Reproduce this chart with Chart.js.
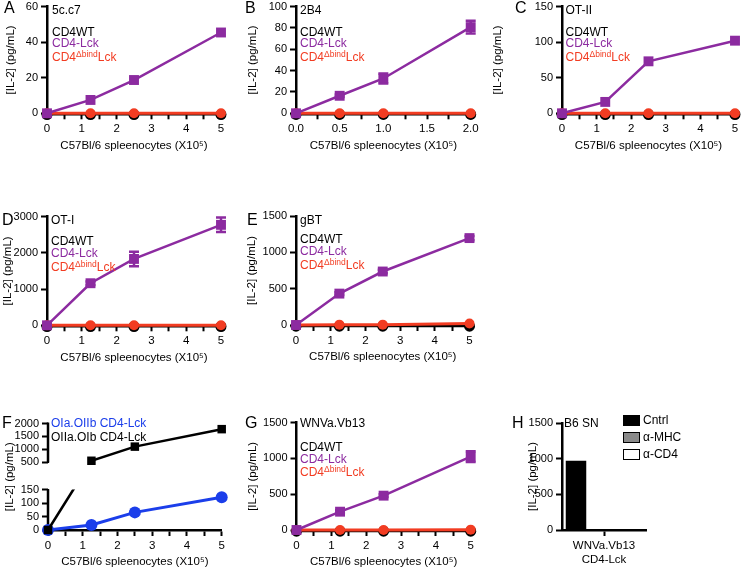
<!DOCTYPE html>
<html>
<head>
<meta charset="utf-8">
<title>IL-2 panels</title>
<script src="https://cdn.jsdelivr.net/npm/chart.js@4.4.1/dist/chart.umd.min.js"></script>
<style>
  body { margin: 0; width: 742px; height: 568px; overflow: hidden; background: #fff; position: relative;
         font-family: 'Liberation Sans', Arial, Helvetica, sans-serif; color: #000; }
  canvas { position: absolute; }
  .note { position: absolute; font-size: 12px; line-height: 14px; white-space: nowrap; }
  .letter { position: absolute; font-size: 16px; line-height: 16px; }
  sup { font-size: 8.5px; line-height: 0; vertical-align: 4px; }
  .key { position: absolute; width: 15px; height: 9px; border: 1px solid #000; }
</style>
</head>
<body>
<script>
const PURPLE = '#8C2BA0';
const RED = '#F23C22';
const BLUE = '#1B3EEA';

// shared x values / ticks
const xDose = [0, 1.25, 2.5, 5];
const xDoseB = [0, 0.5, 1, 2];
const xTicks5 = [0, 0.5, 1, 1.5, 2, 2.5, 3, 3.5, 4, 4.5, 5];
const xLabels5 = ['0', '', '1', '', '2', '', '3', '', '4', '', '5'];
const xTicks2 = [0, 0.25, 0.5, 0.75, 1, 1.25, 1.5, 1.75, 2];
const xLabels2 = ['0.0', '', '0.5', '', '1.0', '', '1.5', '', '2.0'];

// A 5c.c7
const aTicks = [0, 20, 40, 60];
const aWT = [-0.7, -0.7, -0.7, -0.7];
const aLck = [0, 7.5, 18.7, 45.4];
const aBind = [0, 0, 0, 0];

// B 2B4
const bTicks = [0, 20, 40, 60, 80, 100];
const bWT = [-1.1, -1.1, -1.1, -1.1];
const bLck = [0, 16.4, 32.6, 80.7];
const bLckErr = [0, 1.2, 4.7, 5.9];
const bBind = [0, 0, 0, 0];

// C OT-II
const cTicks = [0, 50, 100, 150];
const cWT = [-1.7, -1.7, -1.7, -1.7];
const cLck = [0, 16, 73, 102];
const cBind = [0, 0, 0, 0];

// D OT-I
const dTicks = [0, 1000, 2000, 3000];
const dWT = [-33, -33, -33, -33];
const dLck = [0, 1160, 1830, 2770];
const dLckErr = [0, 50, 200, 200];
const dBind = [0, 0, 0, 0];

// E gBT
const eTicks = [0, 500, 1000, 1500];
const eWT = [-16, -16, -16, -16];
const eLck = [0, 432, 736, 1196];
const eLckErr = [0, 20, 25, 30];
const eBind = [0, 5, 5, 20];

// F OIa.OIIb / OIIa.OIb, broken y axis
const fTicks = [0, 50, 100, 150, 500, 1000, 1500, 2000];
const fBreak = [150, 500];
const fBlue = [0, 19, 66, 123];
const fBlack = [0, 550, 1100, 1780];

// G WNVa.Vb13
const gTicks = [0, 500, 1000, 1500];
const gWT = [-17, -17, -17, -17];
const gLck = [0, 256, 480, 1025];
const gLckErr = [0, 20, 20, 75];
const gBind = [0, 0, 0, 5];

// H B6 SN
const hTicks = [0, 500, 1000, 1500];
const hGroups = [['WNVa.Vb13', 'CD4-Lck']];
const hSeries = ['Cntrl', 'α-MHC', 'α-CD4'];
const hValues = [[975], [0], [0]];
const hColors = ['#000', '#8a8a8a', '#fff'];

// broken linear scale: lower segment / gap / upper segment
const fLowFrac = 0.376, fHighFrac = 0.638;
class BrokenScale extends Chart.LinearScale {
  getPixelForValue(v) {
    const [lo, hi] = fBreak;
    let d;
    if (v <= lo) d = v / lo * fLowFrac;
    else if (v >= hi) d = fHighFrac + (v - hi) / (this.max - hi) * (1 - fHighFrac);
    else d = fLowFrac + (v - lo) / (hi - lo) * (fHighFrac - fLowFrac);
    return this.getPixelForDecimal(d);
  }
}
BrokenScale.id = 'broken';
BrokenScale.defaults = Chart.LinearScale.defaults;
Chart.register(BrokenScale);

Chart.defaults.font.family = "'Liberation Sans', Arial, Helvetica, sans-serif";
Chart.defaults.color = '#000';

const errorBars = {
  id: 'errorBars',
  afterDatasetsDraw(chart) {
    const { ctx, scales: { x, y } } = chart;
    chart.data.datasets.forEach(ds => {
      if (!ds.errors) return;
      ds.data.forEach((pt, i) => {
        const e = ds.errors[i];
        if (!e) return;
        const px = x.getPixelForValue(pt.x);
        const top = y.getPixelForValue(pt.y + e);
        const bot = y.getPixelForValue(pt.y - e);
        ctx.save();
        ctx.strokeStyle = ds.borderColor;
        ctx.lineWidth = 2.5;
        ctx.beginPath();
        ctx.moveTo(px, top); ctx.lineTo(px, bot);
        ctx.moveTo(px - 5, top); ctx.lineTo(px + 5, top);
        ctx.moveTo(px - 5, bot); ctx.lineTo(px + 5, bot);
        ctx.stroke();
        ctx.restore();
      });
    });
  }
};

const yTickFont = { size: 11 };
const xTickFont = { size: 11.5 };
const titleFont = { size: 11.5 };
const gridStyle = { drawOnChartArea: false, drawTicks: true, tickLength: 6, tickWidth: 2, color: '#000' };
const borderStyle = { display: true, width: 2.5, color: '#000' };
const X_HEIGHT = 39;

function place(p) {
  const left = Math.round(p.titleX - 7);
  const top = Math.round(p.area.t - 12);
  const w = Math.round(p.area.r + 45 - left);
  const h = Math.round(p.area.b + X_HEIGHT + 4 - top);
  const canvas = document.createElement('canvas');
  canvas.width = w; canvas.height = h;
  canvas.style.left = left + 'px';
  canvas.style.top = top + 'px';
  canvas.style.width = w + 'px';
  canvas.style.height = h + 'px';
  document.body.appendChild(canvas);
  return { canvas, left, top, w, h };
}

function yScale(p, g, ticks, type) {
  return {
    type: type || 'linear',
    min: ticks[0], max: ticks[ticks.length - 1],
    afterBuildTicks: s => { s.ticks = ticks.map(v => ({ value: v })); },
    afterFit: s => { s.width = p.area.l - g.left; },
    ticks: { autoSkip: false, padding: 3, font: yTickFont, color: '#000', callback: v => String(v) },
    grid: gridStyle,
    border: type === 'broken' ? { display: false } : borderStyle,
    title: { display: true, text: '[IL-2] (pg/mL)', font: titleFont, color: '#000', padding: 0 }
  };
}

function xLinear(ticks, labels) {
  return {
    type: 'linear',
    min: ticks[0], max: ticks[ticks.length - 1],
    afterBuildTicks: s => { s.ticks = ticks.map(v => ({ value: v })); },
    afterFit: s => { s.height = X_HEIGHT; },
    ticks: { autoSkip: false, maxRotation: 0, padding: 3, font: xTickFont, color: '#000', callback: (v, i) => labels[i] },
    grid: gridStyle,
    border: borderStyle,
    title: { display: true, text: 'C57Bl/6 spleenocytes (X10⁵)', font: titleFont, color: '#000', padding: 0 }
  };
}

function baseOptions(p, g, xs, ys) {
  return {
    responsive: false,
    animation: false,
    events: [],
    layout: { padding: {
      top: p.area.t - g.top,
      right: g.w - (p.area.r - g.left),
      bottom: g.h - (p.area.b - g.top) - X_HEIGHT,
      left: 0
    } },
    plugins: { legend: { display: false }, tooltip: { enabled: false } },
    scales: { x: xs, y: ys }
  };
}

function pts(xs, ys) {
  return xs.map((x, i) => ({ x: x, y: ys[i] }));
}

function series(label, xs, ys, color, style, radius, width, order) {
  return {
    label: label, data: pts(xs, ys),
    borderColor: color, backgroundColor: color,
    pointStyle: style, pointRadius: radius, pointBorderWidth: 0,
    borderWidth: width, tension: 0, clip: false, order: order
  };
}

function note(x, y, html, color) {
  const d = document.createElement('div');
  d.className = 'note';
  d.style.left = (x - 1) + 'px';
  d.style.top = (y - 7) + 'px';
  d.style.color = color || '#000';
  d.innerHTML = html;
  document.body.appendChild(d);
}

function letter(x, y, text) {
  const d = document.createElement('div');
  d.className = 'letter';
  d.style.left = x + 'px';
  d.style.top = (y - 8) + 'px';
  d.textContent = text;
  document.body.appendChild(d);
}

const linePanels = [
  { letter: 'A', lx: 4, ly: 8, name: '5c.c7', area: { l: 47, r: 221, t: 6.5, b: 113.3 }, titleX: 11,
    x: xDose, xTicks: xTicks5, xLabels: xLabels5, yTicks: aTicks, wt: aWT, lck: aLck, err: null, bind: aBind,
    nx: 53, ny: [10, 32, 43, 57] },
  { letter: 'B', lx: 245, ly: 8, name: '2B4', area: { l: 296, r: 470.7, t: 6.5, b: 113.3 }, titleX: 253,
    x: xDoseB, xTicks: xTicks2, xLabels: xLabels2, yTicks: bTicks, wt: bWT, lck: bLck, err: bLckErr, bind: bBind,
    nx: 301, ny: [10, 32, 43, 57] },
  { letter: 'C', lx: 515, ly: 8, name: 'OT-II', area: { l: 562, r: 735, t: 6.5, b: 113.3 }, titleX: 498,
    x: xDose, xTicks: xTicks5, xLabels: xLabels5, yTicks: cTicks, wt: cWT, lck: cLck, err: null, bind: cBind,
    nx: 566.5, ny: [10, 32, 43, 57] },
  { letter: 'D', lx: 2, ly: 220, name: 'OT-I', area: { l: 47, r: 221, t: 216.5, b: 325.3 }, titleX: 8,
    x: xDose, xTicks: xTicks5, xLabels: xLabels5, yTicks: dTicks, wt: dWT, lck: dLck, err: dLckErr, bind: dBind,
    nx: 52, ny: [219.5, 241, 253, 267] },
  { letter: 'E', lx: 247, ly: 220, name: 'gBT', area: { l: 296, r: 469.5, t: 216, b: 325 }, titleX: 252,
    x: xDose, xTicks: xTicks5, xLabels: xLabels5, yTicks: eTicks, wt: eWT, lck: eLck, err: eLckErr, bind: eBind,
    nx: 301, ny: [220, 238.5, 251, 264.5] },
  { letter: 'G', lx: 245, ly: 423, name: 'WNVa.Vb13', area: { l: 296.5, r: 470.7, t: 422.7, b: 530 }, titleX: 253,
    x: xDose, xTicks: xTicks5, xLabels: xLabels5, yTicks: gTicks, wt: gWT, lck: gLck, err: gLckErr, bind: gBind,
    nx: 301, ny: [423.3, 446.7, 459, 471.7] }
];

linePanels.forEach(p => {
  const g = place(p);
  const lck = series('CD4-Lck', p.x, p.lck, PURPLE, 'rect', 7, 2.5, 1);
  lck.errors = p.err;
  new Chart(g.canvas, {
    type: 'line',
    data: { datasets: [
      series('CD4WT', p.x, p.wt, '#000', 'circle', 5.5, 2, 3),
      series('CD4ΔbindLck', p.x, p.bind, RED, 'circle', 5, 3, 2),
      lck
    ] },
    options: baseOptions(p, g, xLinear(p.xTicks, p.xLabels), yScale(p, g, p.yTicks)),
    plugins: [errorBars]
  });
  letter(p.lx, p.ly, p.letter);
  note(p.nx, p.ny[0], p.name);
  note(p.nx, p.ny[1], 'CD4WT');
  note(p.nx, p.ny[2], 'CD4-Lck', PURPLE);
  note(p.nx, p.ny[3], 'CD4<sup>Δbind</sup>Lck', RED);
});

// F: broken axis panel
(function () {
  const p = { area: { l: 48, r: 221.7, t: 423.5, b: 530 }, titleX: 10 };
  const g = place(p);
  const blackLine = series('OIIa.OIb CD4-Lck', xDose, fBlack, '#000', 'rect', 0, 2.5, 2);
  blackLine.maskGap = true;
  const blackPts = series('OIIa.OIb CD4-Lck', xDose, fBlack, '#000', 'rect', 6, 2.5, 1);
  blackPts.showLine = false;
  const brokenAxis = {
    id: 'brokenAxis',
    beforeDatasetsDraw(chart) {
      const { ctx, chartArea, scales: { y } } = chart;
      ctx.save();
      ctx.strokeStyle = '#000';
      ctx.lineWidth = 2.5;
      ctx.beginPath();
      ctx.moveTo(chartArea.left, y.getPixelForValue(fTicks[0]) + 1.25);
      ctx.lineTo(chartArea.left, y.getPixelForValue(fBreak[0]) - 1);
      ctx.moveTo(chartArea.left, y.getPixelForValue(fBreak[1]) + 1);
      ctx.lineTo(chartArea.left, y.getPixelForValue(fTicks[fTicks.length - 1]) - 1);
      ctx.stroke();
      ctx.restore();
    },
    afterDatasetDraw(chart, args) {
      if (!chart.data.datasets[args.index].maskGap) return;
      const { ctx, chartArea, scales: { y } } = chart;
      const yLo = y.getPixelForValue(fBreak[0]);
      const yHi = y.getPixelForValue(fBreak[1]);
      ctx.save();
      ctx.fillStyle = '#fff';
      ctx.fillRect(chartArea.left + 1.5, yHi, chartArea.width + 20, yLo - yHi - 0.5);
      ctx.restore();
    }
  };
  new Chart(g.canvas, {
    type: 'line',
    data: { datasets: [
      series('OIa.OIIb CD4-Lck', xDose, fBlue, BLUE, 'circle', 6, 3, 3),
      blackLine,
      blackPts
    ] },
    options: baseOptions(p, g, xLinear(xTicks5, xLabels5), yScale(p, g, fTicks, 'broken')),
    plugins: [brokenAxis]
  });
  letter(2, 423, 'F');
  note(52, 423, 'OIa.OIIb CD4-Lck', BLUE);
  note(52, 437, 'OIIa.OIb CD4-Lck');
})();

// H: bar panel
(function () {
  const p = { area: { l: 562, r: 646, t: 423, b: 530 }, titleX: 533 };
  const g = place(p);
  const xs = {
    type: 'category',
    offset: true,
    afterFit: s => { s.height = X_HEIGHT; },
    ticks: { autoSkip: false, maxRotation: 0, padding: 3, font: xTickFont, color: '#000' },
    grid: Object.assign({}, gridStyle, { offset: false }),
    border: borderStyle
  };
  new Chart(g.canvas, {
    type: 'bar',
    data: {
      labels: hGroups,
      datasets: hSeries.map((name, i) => ({
        label: name, data: hValues[i],
        backgroundColor: hColors[i], borderColor: '#000', borderWidth: 1.5,
        barPercentage: 0.75, categoryPercentage: 1
      }))
    },
    options: baseOptions(p, g, xs, yScale(p, g, hTicks))
  });
  letter(512, 423, 'H');
  note(565, 423.3, 'B6 SN');
  hSeries.forEach((name, i) => {
    const y = 420 + i * 17.2;
    const k = document.createElement('div');
    k.className = 'key';
    k.style.left = '623px';
    k.style.top = (y - 5.5) + 'px';
    k.style.background = hColors[i];
    document.body.appendChild(k);
    note(644, y, name);
  });
})();
</script>
</body>
</html>
